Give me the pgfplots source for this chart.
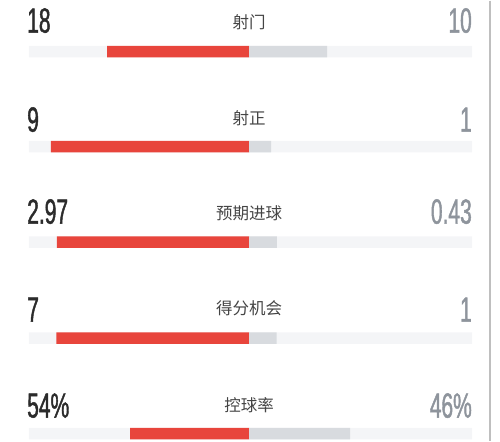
\documentclass[border=0pt]{standalone}
\usepackage{pgfplots}
\pgfplotsset{compat=1.18}
\usepackage{fontspec}
\setmainfont{Liberation Sans}
\newfontfamily\numfont[FakeStretch=0.6, FakeBold=1.2]{Liberation Sans}
\newfontfamily\cjk{Noto Sans CJK SC}

\definecolor{homered}{HTML}{E8453C}
\definecolor{awaygray}{HTML}{D8DBDF}
\definecolor{track}{HTML}{F4F5F7}
\definecolor{numdark}{HTML}{2B2B2B}
\definecolor{numgray}{HTML}{8E949C}
\definecolor{labelc}{HTML}{444444}

\tikzset{
  lnum/.style={anchor=west, inner sep=0pt, text=numdark, font=\numfont\fontsize{35}{35}\selectfont},
  rnum/.style={anchor=east, inner sep=0pt, text=numgray, font=\numfont\fontsize{35}{35}\selectfont},
  lab/.style={anchor=center, inner sep=0pt, text=labelc, font=\cjk\fontsize{16.5}{16.5}\selectfont},
}

% shares of each stat (home, away)
% stats: 18-10, 9-1, 2.97-0.43, 7-1, 54%-46%
\begin{document}
\begin{tikzpicture}
\begin{axis}[
    width=500pt, height=440pt, scale only axis,
    xmin=-1.1318, xmax=1.1409,
    ymin=0, ymax=440, y dir=reverse,
    axis line style={draw=none}, ticks=none,
    xbar, bar shift=0pt, bar width=11.5pt,
    clip=false,
]
% background track
\addplot[fill=track, draw=none, forget plot] coordinates {(1.0136,51) (1.0136,146) (1.0136,241.5) (1.0136,337.5) (1.0136,433)};
\addplot[fill=track, draw=none, forget plot] coordinates {(-1.0,51) (-1.0,146) (-1.0,241.5) (-1.0,337.5) (-1.0,433)};
% home (red, to the left)
\addplot[fill=homered, draw=none] coordinates {(-0.645,51) (-0.900,146) (-0.873,241.5) (-0.875,337.5) (-0.540,433)};
% away (gray, to the right)
\addplot[fill=awaygray, draw=none] coordinates {(0.355,51) (0.100,146) (0.127,241.5) (0.125,337.5) (0.460,433)};

\draw[color=black!25, line width=1.2pt] (axis cs:1.0955,0) -- (axis cs:1.0955,440);

\node[lnum] at (axis cs:-1.009,20) {18};
\node[rnum] at (axis cs:1.0136,20) {10};
\node[lab] at (axis cs:0,22) {\cjk 射门};

\node[lnum] at (axis cs:-1.009,119) {9};
\node[rnum] at (axis cs:1.0136,119) {1};
\node[lab] at (axis cs:0,118) {\cjk 射正};

\node[lnum] at (axis cs:-1.009,211) {2.97};
\node[rnum] at (axis cs:1.0136,211) {0.43};
\node[lab] at (axis cs:0,213) {\cjk 预期进球};

\node[lnum] at (axis cs:-1.009,309) {7};
\node[rnum] at (axis cs:1.0136,309) {1};
\node[lab] at (axis cs:0,308) {\cjk 得分机会};

\node[lnum] at (axis cs:-1.009,405) {54\%};
\node[rnum] at (axis cs:1.0136,405) {46\%};
\node[lab] at (axis cs:0,405) {\cjk 控球率};
\end{axis}
\end{tikzpicture}
\end{document}
